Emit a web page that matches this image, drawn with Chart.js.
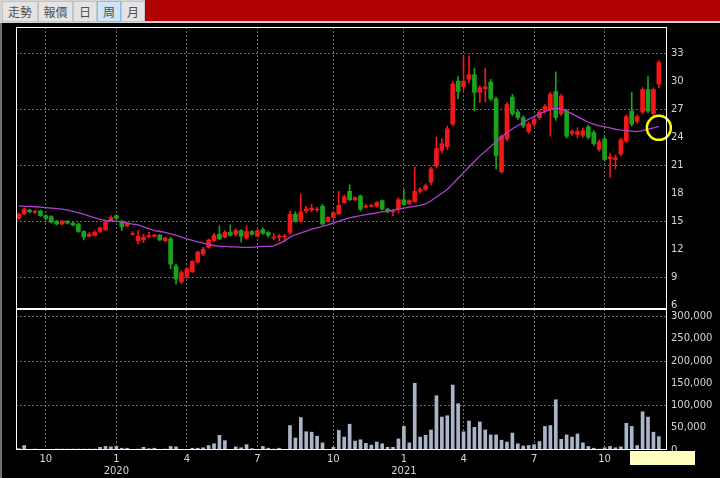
<!DOCTYPE html>
<html><head><meta charset="utf-8">
<script src="https://cdn.jsdelivr.net/npm/chart.js@4.4.1/dist/chart.umd.min.js"></script>
<style>
html,body{margin:0;padding:0;background:#000;width:720px;height:478px;overflow:hidden;}
#wrap{position:relative;width:720px;height:478px;background:#000;}
canvas{position:absolute;left:0;top:0;}
#tool{position:absolute;left:0;top:0;width:720px;height:23px;background:#d4d4d4;}
.btn{position:absolute;top:1px;height:21px;background:#e4e4e4;border:1px solid #c4c4c4;box-sizing:border-box;
 font:12px "Noto Sans CJK TC","Noto Sans CJK SC",sans-serif;color:#505050;text-align:center;line-height:19px;}
.sel{background:#cde5f8;border-color:#8fbfe8;}
#red{position:absolute;left:145px;top:0;width:575px;height:21px;background:#b00000;}
#frame{position:absolute;left:0;top:23px;width:2px;height:455px;background:#707070;}
#cursor{position:absolute;left:630px;top:451px;width:65px;height:14px;background:#ffffc0;}
</style></head>
<body><div id="wrap">
<canvas id="price" width="720" height="478"></canvas>
<canvas id="vol" width="720" height="478"></canvas>
<div id="tool">
 <div class="btn" style="left:2px;width:36px">走勢</div>
 <div class="btn" style="left:38px;width:35px">報價</div>
 <div class="btn" style="left:73px;width:24px">日</div>
 <div class="btn sel" style="left:97px;width:24px">周</div>
 <div class="btn" style="left:121px;width:24px">月</div>
 <div id="red"></div>
</div>
<div id="frame"></div>
<div id="cursor"></div>
</div>
<script>
const weeks = [
'2019-08-26','2019-09-02','2019-09-09','2019-09-16','2019-09-23','2019-09-30','2019-10-07','2019-10-14','2019-10-21','2019-10-28',
'2019-11-04','2019-11-11','2019-11-18','2019-11-25','2019-12-02','2019-12-09','2019-12-16','2019-12-23','2019-12-30','2020-01-06',
'2020-01-13','2020-01-20','2020-01-27','2020-02-03','2020-02-10','2020-02-17','2020-02-24','2020-03-02','2020-03-09','2020-03-16',
'2020-03-23','2020-03-30','2020-04-06','2020-04-13','2020-04-20','2020-04-27','2020-05-04','2020-05-11','2020-05-18','2020-05-25',
'2020-06-01','2020-06-08','2020-06-15','2020-06-22','2020-06-29','2020-07-06','2020-07-13','2020-07-20','2020-07-27','2020-08-03',
'2020-08-10','2020-08-17','2020-08-24','2020-08-31','2020-09-07','2020-09-14','2020-09-21','2020-09-28','2020-10-05','2020-10-12',
'2020-10-19','2020-10-26','2020-11-02','2020-11-09','2020-11-16','2020-11-23','2020-11-30','2020-12-07','2020-12-14','2020-12-21',
'2020-12-28','2021-01-04','2021-01-11','2021-01-18','2021-01-25','2021-02-01','2021-02-15','2021-02-22','2021-03-01','2021-03-08',
'2021-03-15','2021-03-22','2021-03-29','2021-04-05','2021-04-12','2021-04-19','2021-04-26','2021-05-03','2021-05-10','2021-05-17',
'2021-05-24','2021-05-31','2021-06-07','2021-06-14','2021-06-21','2021-06-28','2021-07-05','2021-07-12','2021-07-19','2021-07-26',
'2021-08-02','2021-08-09','2021-08-16','2021-08-23','2021-08-30','2021-09-06','2021-09-13','2021-09-20','2021-09-27','2021-10-04',
'2021-10-11','2021-10-18','2021-10-25','2021-11-01','2021-11-08','2021-11-15','2021-11-22','2021-11-29','2021-12-06','2021-12-13'];

const open = [
15.3,15.8,16.2,15.95,16.1,15.6,15.5,15.0,14.7,15.0,
14.8,14.7,13.9,13.4,13.5,13.9,14.1,15.1,15.6,15.0,
14.5,13.6,12.9,13.0,13.35,13.4,13.5,12.9,13.1,10.2,
8.5,9.1,9.6,10.6,11.5,12.2,12.9,13.6,13.3,13.8,
13.6,14.0,13.2,13.9,13.4,14.1,13.8,13.2,13.3,13.3,
13.8,15.75,15.0,16.1,16.2,16.2,16.6,15.0,15.4,15.8,
17.0,18.2,17.3,17.7,16.5,16.6,16.6,17.2,16.3,16.0,
16.3,17.3,16.9,17.1,18.2,18.4,19.2,20.9,22.6,23.0,
25.4,30.0,29.4,30.2,30.7,28.8,29.2,29.9,28.1,20.3,
23.8,28.3,26.7,26.1,24.6,25.4,26.1,26.8,27.0,28.9,
26.5,26.8,24.4,24.3,24.2,25.1,24.5,22.7,23.8,21.7,
21.6,22.2,23.6,26.8,25.7,26.7,29.1,26.5,29.7];
const close = [
15.75,16.3,16.0,16.05,15.6,15.3,14.9,14.7,15.0,14.8,
14.6,13.9,13.3,13.6,13.8,14.3,15.0,15.4,15.3,14.4,
14.8,13.7,13.4,13.3,13.45,13.5,13.0,13.2,10.4,8.8,
9.5,9.9,10.7,11.7,12.0,13.0,13.5,13.1,13.8,13.5,
14.0,13.4,13.9,13.6,14.0,13.7,13.5,13.3,13.4,13.4,
15.75,15.0,16.0,16.3,16.4,16.3,14.7,15.4,15.9,16.7,
17.6,17.3,17.5,16.3,16.6,16.7,17.0,16.3,16.0,16.1,
17.3,16.8,17.2,18.2,18.4,18.8,20.6,22.8,23.3,24.9,
29.7,28.9,30.0,30.7,28.8,29.3,29.4,28.1,22.0,24.1,
27.5,26.5,26.1,25.2,25.4,25.9,26.7,27.3,28.6,26.1,
28.4,24.1,24.6,24.6,24.7,24.0,23.3,23.5,21.6,21.9,
21.8,23.7,26.2,25.4,26.2,29.1,26.8,29.1,32.0];
const high = [
15.9,16.4,16.3,16.2,16.2,15.7,15.6,15.1,15.1,15.1,
14.9,14.8,14.0,13.8,14.0,14.4,15.1,15.6,15.7,15.1,
14.9,13.9,14.0,13.6,13.8,13.6,13.6,13.3,13.3,10.4,
9.7,10.0,10.8,11.8,12.2,13.1,13.7,14.5,14.0,14.6,
14.2,14.1,14.5,14.0,14.1,14.3,13.9,13.7,13.6,13.6,
16.1,16.0,17.9,16.6,16.8,16.5,16.8,15.5,16.0,18.2,
17.8,18.9,17.6,17.8,16.8,16.8,17.1,17.3,16.4,16.2,
17.5,18.4,17.3,20.8,18.6,19.0,20.8,24.0,23.8,25.2,
30.0,30.5,32.6,32.7,31.4,29.5,31.4,30.2,28.3,24.3,
27.7,28.6,26.9,26.3,25.6,26.1,26.9,27.5,28.8,31.0,
28.6,27.0,24.8,25.0,25.0,25.3,24.7,23.7,24.0,22.3,
22.1,23.9,26.4,28.8,26.4,29.3,30.5,29.3,32.2];
const low = [
15.2,15.7,15.9,15.8,15.5,15.2,14.8,14.6,14.6,14.7,
14.5,13.8,13.0,13.3,13.4,13.8,14.0,15.0,15.2,14.0,
14.4,13.5,12.6,12.7,13.2,13.3,12.9,12.8,9.9,8.25,
8.3,8.9,9.5,10.5,11.3,12.1,12.8,13.0,13.2,13.4,
13.4,12.75,13.1,13.5,13.3,13.6,13.3,13.0,12.9,12.8,
13.6,14.9,14.9,15.9,16.0,16.0,14.6,14.9,15.3,15.7,
16.9,17.2,17.2,16.1,16.4,16.5,16.5,16.2,15.9,15.6,
15.9,16.7,16.8,17.0,18.0,18.3,18.9,20.7,22.3,22.7,
25.2,28.1,29.0,29.8,26.8,27.7,27.8,27.9,20.6,20.1,
23.6,26.3,25.9,25.0,24.4,25.2,25.9,26.6,24.1,25.8,
26.3,23.9,24.2,23.9,24.0,23.8,23.1,22.5,21.4,19.7,
20.6,22.0,23.4,25.2,25.5,26.5,26.6,26.3,29.3];
const volume = [
3000,10000,1000,2000,1000,1000,1000,2000,2000,2000,
2000,2000,2000,2000,2000,6000,8000,7000,8000,4000,
4000,1000,2000,6000,3000,4000,1000,2000,8000,7000,
1000,1000,4000,4000,5000,10000,14000,33000,21000,1000,
7000,5000,12000,3000,1000,8000,4000,2000,4000,1000,
55000,27000,73000,41000,40000,31000,16000,1000,6000,44000,
29000,58000,20000,23000,15000,11000,18000,14000,6000,6000,
25000,53000,16000,150000,29000,33000,45000,122000,74000,77000,
146000,104000,41000,65000,51000,63000,45000,34000,34000,22000,
18000,38000,14000,9000,10000,12000,19000,53000,55000,113000,
24000,34000,29000,36000,16000,8000,4000,2000,5000,8000,
5000,7000,60000,53000,10000,86000,74000,40000,30000];
const ma = [
16.65,16.6,16.6,16.55,16.5,16.45,16.4,16.35,16.3,16.2,
16.05,15.9,15.75,15.55,15.35,15.2,15.1,15.05,15.0,14.9,
14.8,14.7,14.6,14.4,14.2,14.0,13.9,13.8,13.65,13.5,
13.3,13.1,12.95,12.8,12.65,12.5,12.4,12.3,12.3,12.25,
12.25,12.2,12.2,12.2,12.25,12.3,12.3,12.35,12.6,12.9,
13.3,13.55,13.75,13.95,14.15,14.3,14.45,14.6,14.8,15.0,
15.2,15.35,15.5,15.6,15.7,15.8,15.9,16.0,16.1,16.2,
16.3,16.4,16.5,16.6,16.7,16.85,17.2,17.6,18.0,18.4,
19.0,19.6,20.2,20.8,21.4,22.0,22.5,23.0,23.5,24.0,
24.5,24.9,25.25,25.6,25.9,26.2,26.5,26.75,26.95,27.1,
27.0,26.8,26.5,26.2,25.9,25.6,25.4,25.2,25.1,25.0,
24.85,24.75,24.7,24.65,24.6,24.7,24.85,25.0,25.15];

const priceTicks = [6,9,12,15,18,21,24,27,30,33];
const priceGrid = [9,15,21,27,33];
const volTicks = [0,50000,100000,150000,200000,250000,300000];
const volGrid = [100000,200000,300000];
const tickWeeks = ['2019-09-30','2019-12-30','2020-03-30','2020-06-29','2020-10-05','2021-01-04','2021-03-29','2021-06-28','2021-09-27'];
const tickLabels = ['10',['1','2020'],'4','7','10',['1','2021'],'4','7','10'];
const markWeek = '2021-12-06', markValue = 25.0;

const UP = '#f01818', DOWN = '#1aa31a', GRID = '#6c6c6c', TXT = '#d4d4d4';
const tickIdx = tickWeeks.map(w => weeks.indexOf(w));
const colors = open.map((o,i) => close[i] >= o ? UP : DOWN);
const wicks = low.map((l,i) => [l, high[i]]);
const bodies = open.map((o,i) => [Math.min(o, close[i]), Math.max(o, close[i])]);

const frame = {
  id:'frame',
  afterDraw(chart){
    const {ctx, chartArea:a} = chart;
    ctx.save(); ctx.strokeStyle = '#ffffff'; ctx.lineWidth = 1;
    ctx.strokeRect(a.left+0.5, a.top+0.5, a.right-a.left-1, a.bottom-a.top-1);
    ctx.restore();
  }
};
const font = {family:'DejaVu Sans', size:10};
function xScale(showLabels){
  return {
    type:'category', offset:true,
    grid:{color:GRID, drawTicks:false, offset:false, lineWidth:1},
    border:{display:false, dash:[2,2]},
    ticks:{display:showLabels, autoSkip:false, maxRotation:0, minRotation:0, color:TXT, font:{...font, lineHeight:1.2}, padding:3,
      callback:(v) => { const k = tickIdx.indexOf(v); return k >= 0 ? tickLabels[k] : ''; }},
    afterBuildTicks: s => { s.ticks = s.ticks.filter(t => tickIdx.includes(t.value)); },
    afterFit: s => { s.height = showLabels ? 28 : 0; }
  };
}

new Chart(document.getElementById('price'), {
  type:'bar',
  data:{labels:weeks, datasets:[
    {type:'line', data:[{x:markWeek, y:markValue}], showLine:false, pointRadius:12, pointHoverRadius:12,
     pointBorderColor:'#ffff00', pointBorderWidth:2.5, pointBackgroundColor:'rgba(0,0,0,0)', order:-1},
    {type:'line', data:ma, borderColor:'#b040d0', borderWidth:1.3, pointRadius:0, tension:0, order:0},
    {data:bodies, backgroundColor:colors, barThickness:4, grouped:false, minBarLength:1, order:1},
    {data:wicks, backgroundColor:colors, barThickness:1, grouped:false, order:2}
  ]},
  options:{
    responsive:false, animation:false, devicePixelRatio:1,
    layout:{padding:{left:16, top:27, right:0, bottom:169}},
    plugins:{legend:{display:false}, tooltip:{enabled:false}},
    scales:{
      x: xScale(false),
      y:{position:'right', min:5.6, max:35.8,
        afterBuildTicks: s => { s.ticks = priceTicks.map(v => ({value:v})); },
        grid:{drawTicks:false, color: c => (c.tick && priceGrid.includes(c.tick.value)) ? GRID : 'rgba(0,0,0,0)'},
        border:{display:false, dash:[2,2]},
        ticks:{color:TXT, font, padding:4, callback: v => String(v)},
        afterFit: s => { s.width = 53; }}
    }
  },
  plugins:[frame]
});

new Chart(document.getElementById('vol'), {
  type:'bar',
  data:{labels:weeks, datasets:[
    {data:volume, backgroundColor:'#a9b5c9', barThickness:3}
  ]},
  options:{
    responsive:false, animation:false, devicePixelRatio:1,
    layout:{padding:{left:16, top:309, right:0, bottom:0}},
    plugins:{legend:{display:false}, tooltip:{enabled:false}},
    scales:{
      x: xScale(true),
      y:{position:'right', min:0, max:317000,
        afterBuildTicks: s => { s.ticks = volTicks.map(v => ({value:v})); },
        grid:{drawTicks:false, color: c => (c.tick && volGrid.includes(c.tick.value)) ? GRID : 'rgba(0,0,0,0)'},
        border:{display:false, dash:[2,2]},
        ticks:{color:TXT, font, padding:4, callback: v => Number(v).toLocaleString('en-US')},
        afterFit: s => { s.width = 53; }}
    }
  },
  plugins:[frame]
});
</script>
</body></html>
